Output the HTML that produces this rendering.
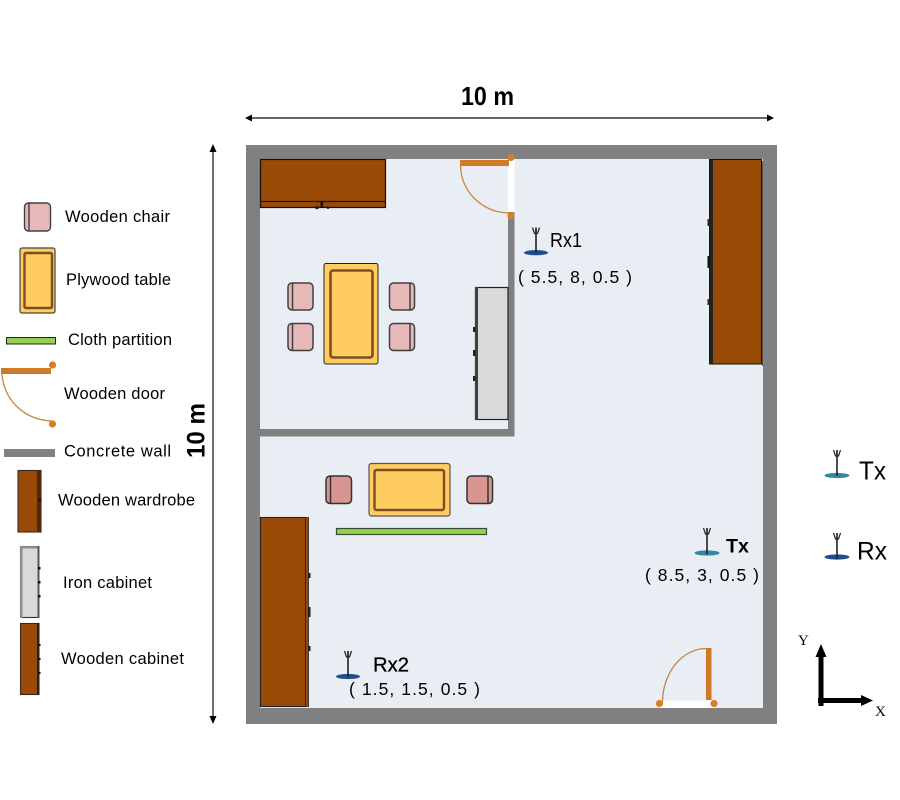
<!DOCTYPE html>
<html><head><meta charset="utf-8"><style>
html,body{margin:0;padding:0;background:#fff}
svg{display:block}
text{font-family:"Liberation Sans",sans-serif;fill:#000}
.l{font-size:16.5px}
.c{font-size:17.5px}
</style></head><body>
<svg width="900" height="800" viewBox="0 0 900 800" xmlns="http://www.w3.org/2000/svg">
<defs>
<g id="ant">
<line x1="0" y1="0" x2="0" y2="26" stroke="#222" stroke-width="1.6"/>
<path d="M-3.5 0L-1.5 6H1.5L3.5 0M0 0V6" fill="none" stroke="#222" stroke-width="1.2"/>
</g>
<g id="knob"><circle r="3.6" fill="#d67f25"/></g>
</defs>

<!-- room -->
<rect x="246" y="145" width="531" height="579" fill="#808080"/>
<rect x="260" y="159" width="503" height="549" fill="#e9eef5"/>
<rect x="260" y="429" width="254" height="7.5" fill="#808080"/>
<rect x="508" y="212" width="6.5" height="224" fill="#808080"/>

<!-- top door -->
<rect x="508" y="159" width="6.5" height="53" fill="#fff"/>
<path d="M460.5 165A49 48 0 0 0 509 213" fill="none" stroke="#c9853f" stroke-width="1.3"/>
<rect x="460" y="160" width="49" height="6" fill="#cf7a26"/>
<use href="#knob" x="511" y="157.5"/><use href="#knob" x="511" y="216"/>

<!-- cabinet top -->
<rect x="260.5" y="159.5" width="125" height="48" fill="#9a4a07" stroke="#111" stroke-width="1.2"/>
<line x1="260" y1="201.5" x2="386" y2="201.5" stroke="#1a1a1a" stroke-width="1.2"/>
<rect x="320.5" y="201" width="2.6" height="6.5" fill="#111"/>
<circle cx="317" cy="207.5" r="1.8" fill="#222"/><circle cx="328" cy="207.5" r="1.5" fill="#222"/>

<!-- table top room -->
<rect x="324" y="263.5" width="54" height="100.5" rx="2" fill="#ffcc60" stroke="#222" stroke-width="1"/>
<rect x="330.5" y="270.5" width="42" height="87" rx="2.5" fill="#ffcc60" stroke="#7d4e24" stroke-width="2.6"/>

<!-- chairs top room -->
<g fill="#e6b8b7" stroke="#404040" stroke-width="1.5">
<rect x="288" y="283" width="25" height="27" rx="4"/><line x1="292.5" y1="283" x2="292.5" y2="310"/>
<rect x="288" y="323.5" width="25" height="27" rx="4"/><line x1="292.5" y1="323.5" x2="292.5" y2="350.5"/>
<rect x="389.5" y="283" width="25" height="27" rx="4"/><line x1="410" y1="283" x2="410" y2="310"/>
<rect x="389.5" y="323.5" width="25" height="27" rx="4"/><line x1="410" y1="323.5" x2="410" y2="350.5"/>
</g>

<!-- iron cabinet -->
<rect x="475.5" y="287.5" width="32.5" height="132" fill="#d9d9d9" stroke="#222" stroke-width="1.2"/>
<rect x="475" y="287" width="3" height="133" fill="#404040"/>
<rect x="473" y="327" width="2.5" height="5" fill="#222"/><rect x="473" y="350" width="2.5" height="6" fill="#222"/><rect x="473" y="376" width="2.5" height="5" fill="#222"/>

<!-- right wardrobe -->
<rect x="709.5" y="159.5" width="52" height="204.5" fill="#9a4a07" stroke="#111" stroke-width="1"/>
<rect x="709.5" y="160" width="3.5" height="204" fill="#222"/>
<rect x="707.5" y="219" width="2.5" height="7" fill="#3a2010"/><rect x="707.5" y="256" width="2.5" height="12" fill="#111"/><rect x="707.5" y="299" width="2.5" height="6" fill="#3a2010"/>
<rect x="762" y="161" width="1" height="205" fill="#555"/>

<!-- lower dining -->
<rect x="369" y="463.5" width="81" height="52.5" rx="2.5" fill="#ffcc60" stroke="#555" stroke-width="1.2"/>
<rect x="374.5" y="470" width="69.5" height="40" rx="2" fill="#ffcc60" stroke="#7d4e24" stroke-width="2.4"/>
<g fill="#d9958f" stroke="#333" stroke-width="1.5">
<rect x="326" y="476" width="25.5" height="27.5" rx="4"/><line x1="330.5" y1="476" x2="330.5" y2="503.5"/>
<rect x="467" y="476" width="25.5" height="27.5" rx="4"/><line x1="488" y1="476" x2="488" y2="503.5"/>
</g>
<rect x="336.5" y="528.5" width="150" height="6" fill="#92d050" stroke="#3d4a33" stroke-width="1.2"/>

<!-- lower wardrobe -->
<rect x="260.5" y="517.5" width="45" height="189" fill="#9a4a07" stroke="#222" stroke-width="1.1"/>
<rect x="305.5" y="517.5" width="3" height="189" fill="#9a4a07" stroke="#222" stroke-width="0.8"/>
<rect x="308" y="573" width="2.5" height="5" fill="#222"/><rect x="308" y="607" width="2.5" height="10" fill="#222"/><rect x="308" y="646" width="2.5" height="5" fill="#222"/>

<!-- bottom door -->
<rect x="660" y="700.5" width="54" height="7.5" fill="#fff"/>
<path d="M662.5 702A44 54 0 0 1 706 648.5" fill="none" stroke="#c9853f" stroke-width="1.3"/>
<rect x="706" y="648" width="5.5" height="52" fill="#cf7a26"/>
<use href="#knob" x="659.5" y="703.5"/><use href="#knob" x="714" y="703.5"/>

<!-- dimensions -->
<line x1="250" y1="118" x2="769" y2="118" stroke="#333" stroke-width="1.4"/>
<path d="M245 118L252 114.5V121.5Z"/><path d="M774 118L767 114.5V121.5Z"/>
<text x="461" y="105" font-size="26" font-weight="700" textLength="53" lengthAdjust="spacingAndGlyphs">10 m</text>
<line x1="213" y1="148" x2="213" y2="720" stroke="#333" stroke-width="1.4"/>
<path d="M213 144L209.5 152H216.5Z"/><path d="M213 724L209.5 716H216.5Z"/>
<text transform="translate(204.5 458) rotate(-90)" font-size="25" font-weight="700" textLength="55" lengthAdjust="spacingAndGlyphs">10 m</text>

<!-- antennas in room -->
<ellipse cx="536" cy="252.7" rx="12" ry="2.6" fill="#1f4e8c"/><use href="#ant" x="536" y="227.5"/>
<text x="550" y="247" font-size="20" textLength="32" lengthAdjust="spacingAndGlyphs">Rx1</text>
<text class="c" x="518" y="283" textLength="114" lengthAdjust="spacing">( 5.5, 8, 0.5 )</text>

<ellipse cx="707" cy="553" rx="12.5" ry="2.6" fill="#31899f"/><use href="#ant" x="707" y="528"/>
<text x="726" y="552.5" font-size="19" font-weight="700" textLength="23" lengthAdjust="spacingAndGlyphs">Tx</text>
<text class="c" x="645" y="581" textLength="114" lengthAdjust="spacing">( 8.5, 3, 0.5 )</text>

<ellipse cx="348" cy="676.5" rx="12" ry="2.6" fill="#1f4e8c"/><use href="#ant" x="348" y="651"/>
<text x="373" y="671.5" font-size="20" textLength="36" lengthAdjust="spacingAndGlyphs" stroke="#000" stroke-width="0.3">Rx2</text>
<text class="c" x="349" y="695" textLength="131" lengthAdjust="spacing">( 1.5, 1.5, 0.5 )</text>

<!-- legend right -->
<ellipse cx="837" cy="475.5" rx="12.5" ry="2.6" fill="#31899f"/><use href="#ant" x="837" y="450"/>
<text x="859" y="479.5" font-size="26" textLength="27" lengthAdjust="spacingAndGlyphs">Tx</text>
<ellipse cx="837" cy="557" rx="12.5" ry="2.6" fill="#1f4e8c"/><use href="#ant" x="837" y="533"/>
<text x="857" y="559.5" font-size="25" textLength="30" lengthAdjust="spacingAndGlyphs">Rx</text>

<!-- axes -->
<line x1="821" y1="655" x2="821" y2="706" stroke="#000" stroke-width="5"/>
<path d="M821 644L815.5 657H826.5Z"/>
<line x1="818" y1="700.5" x2="864" y2="700.5" stroke="#000" stroke-width="5"/>
<path d="M873 700.5L861 695V706Z"/>
<text x="798" y="645" font-size="15" style="font-family:'Liberation Serif',serif">Y</text>
<text x="875" y="716" font-size="15" style="font-family:'Liberation Serif',serif">X</text>

<!-- legend left -->
<g fill="#e6b8b7" stroke="#404040" stroke-width="1.4">
<rect x="24.5" y="203" width="26" height="28" rx="4"/><line x1="29" y1="203" x2="29" y2="231"/>
</g>
<rect x="20" y="248" width="35" height="65" rx="2" fill="#ffcc60" stroke="#444" stroke-width="1.2"/>
<rect x="24.5" y="253" width="27.5" height="55" rx="1.5" fill="#ffcc60" stroke="#7d4e24" stroke-width="2.4"/>
<rect x="6.5" y="337.5" width="49" height="6.5" fill="#92d050" stroke="#222" stroke-width="1"/>
<rect x="1" y="368" width="50" height="6" fill="#cf7a26"/>
<path d="M2 374C4 400 24 420 52 421" fill="none" stroke="#c9853f" stroke-width="1.3"/>
<use href="#knob" x="52.5" y="365"/><use href="#knob" x="52.5" y="424"/>
<rect x="4" y="449" width="51" height="8" fill="#808080"/>

<rect x="18" y="470.5" width="23" height="61.5" fill="#9a4a07" stroke="#3a2a1a" stroke-width="1.1"/>
<rect x="37" y="470.5" width="4" height="61.5" fill="#4d2a0e"/>
<rect x="38.5" y="499" width="3" height="2.5" fill="#111"/>

<rect x="20.5" y="546.5" width="18" height="71" fill="#d9d9d9" stroke="#333" stroke-width="1.1"/>
<rect x="20" y="546" width="2.5" height="72" fill="#8c8c8c"/><rect x="20" y="546" width="19" height="2.5" fill="#8c8c8c"/>
<rect x="37.5" y="546" width="2" height="72" fill="#555"/>
<rect x="38" y="567" width="2.5" height="2.5" fill="#111"/><rect x="38" y="581" width="2.5" height="2.5" fill="#111"/><rect x="38" y="595" width="2.5" height="2.5" fill="#111"/>

<rect x="20.5" y="623.5" width="18" height="71" fill="#9a4a07" stroke="#3a2a1a" stroke-width="1.1"/>
<rect x="37" y="623" width="2.5" height="72" fill="#222"/>
<rect x="38" y="644" width="2.5" height="2" fill="#111"/><rect x="38" y="658" width="2.5" height="2" fill="#111"/><rect x="38" y="672" width="2.5" height="2" fill="#111"/>

<text class="l" x="65" y="222" textLength="105" lengthAdjust="spacing">Wooden chair</text>
<text class="l" x="66" y="285" textLength="105" lengthAdjust="spacing">Plywood table</text>
<text class="l" x="68" y="345" textLength="104" lengthAdjust="spacing">Cloth partition</text>
<text class="l" x="64" y="399" textLength="101" lengthAdjust="spacing">Wooden door</text>
<text class="l" x="64" y="456.5" textLength="107" lengthAdjust="spacing">Concrete  wall</text>
<text class="l" x="58" y="505.5" textLength="137" lengthAdjust="spacing">Wooden wardrobe</text>
<text class="l" x="63" y="588" textLength="89" lengthAdjust="spacing">Iron cabinet</text>
<text class="l" x="61" y="664" textLength="123" lengthAdjust="spacing">Wooden cabinet</text>
</svg>
</body></html>
